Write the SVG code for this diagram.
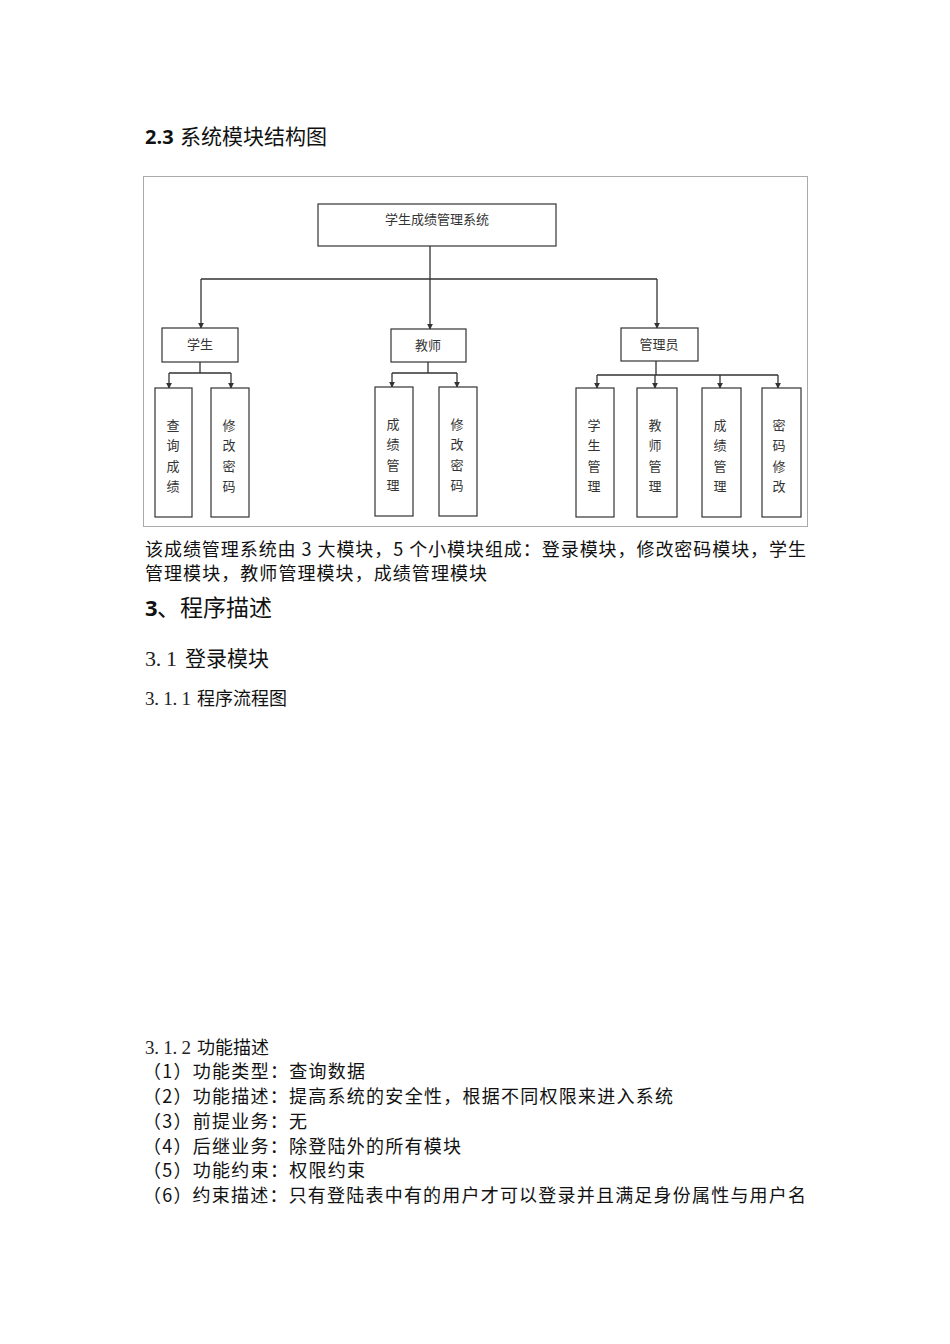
<svg xmlns="http://www.w3.org/2000/svg" width="950" height="1344" viewBox="0 0 950 1344">
<style>
.cjk{font-family:"Noto Sans CJK SC","Noto Sans",sans-serif;fill:#111}
.lat{font-family:"Open Sans","Liberation Sans",sans-serif;fill:#111}
.num{font-family:"Liberation Serif","DejaVu Serif",serif;fill:#222}
.box{fill:#fff;stroke:#333;stroke-width:1.2}
.nt{font-family:"Noto Sans CJK SC",sans-serif;font-size:13px;fill:#333;text-anchor:middle}
.edge{fill:none;stroke:#333;stroke-width:1.3}
.arr{fill:none;stroke:#333;stroke-width:1.3;marker-end:url(#ah)}
.body{font-size:18px}
</style>
<defs>
<marker id="ah" viewBox="0 0 8 8" refX="7" refY="4" markerWidth="6" markerHeight="6" markerUnits="userSpaceOnUse" orient="auto">
<path d="M0,0 L8,4 L0,8 z" fill="#333"/>
</marker>
</defs>
<rect width="950" height="1344" fill="#fff"/>

<!-- headings -->
<text x="145" y="144" class="lat" font-size="20" font-weight="bold">2.3</text>
<text x="180" y="144" class="cjk" font-size="21">系统模块结构图</text>

<!-- frame -->
<rect x="143.5" y="176.5" width="664" height="350" fill="none" stroke="#aaa" stroke-width="1"/>

<!-- connectors -->
<g id="connectors">
<path class="edge" d="M430,246 V279 M201,279 H657"/>
<path class="arr" d="M201,279 V328"/>
<path class="arr" d="M430,279 V329"/>
<path class="arr" d="M657,279 V328"/>
<path class="edge" d="M200,362 V373 M169,373 H231"/>
<path class="arr" d="M169,373 V388"/>
<path class="arr" d="M231,373 V388"/>
<path class="edge" d="M428,362 V373 M392,373 H457"/>
<path class="arr" d="M392,373 V387"/>
<path class="arr" d="M457,373 V387"/>
<path class="edge" d="M656,361 V375 M597,375 H778"/>
<path class="arr" d="M597,375 V388"/>
<path class="arr" d="M655,375 V388"/>
<path class="arr" d="M720,375 V388"/>
<path class="arr" d="M778,375 V388"/>
</g>

<g id="root"><rect class="box" x="318" y="204" width="238" height="42"/><text class="nt" x="437" y="224">学生成绩管理系统</text></g>
<g id="student"><rect class="box" x="162" y="328" width="76" height="34"/><text class="nt" x="200" y="349">学生</text></g>
<g id="teacher"><rect class="box" x="391" y="329" width="75" height="33"/><text class="nt" x="428" y="350">教师</text></g>
<g id="admin"><rect class="box" x="621" y="328" width="77" height="33"/><text class="nt" x="659" y="349">管理员</text></g>

<g id="s1"><rect class="box" x="155" y="388" width="37" height="129"/><text class="nt" x="173" y="430">查</text><text class="nt" x="173" y="450">询</text><text class="nt" x="173" y="471">成</text><text class="nt" x="173" y="491">绩</text></g>
<g id="s2"><rect class="box" x="211" y="388" width="38" height="129"/><text class="nt" x="229" y="430">修</text><text class="nt" x="229" y="450">改</text><text class="nt" x="229" y="471">密</text><text class="nt" x="229" y="491">码</text></g>
<g id="t1"><rect class="box" x="375" y="387" width="38" height="129"/><text class="nt" x="393" y="429">成</text><text class="nt" x="393" y="449">绩</text><text class="nt" x="393" y="470">管</text><text class="nt" x="393" y="490">理</text></g>
<g id="t2"><rect class="box" x="439" y="387" width="38" height="129"/><text class="nt" x="457" y="429">修</text><text class="nt" x="457" y="449">改</text><text class="nt" x="457" y="470">密</text><text class="nt" x="457" y="490">码</text></g>
<g id="a1"><rect class="box" x="576" y="388" width="38" height="129"/><text class="nt" x="594" y="430">学</text><text class="nt" x="594" y="450">生</text><text class="nt" x="594" y="471">管</text><text class="nt" x="594" y="491">理</text></g>
<g id="a2"><rect class="box" x="637" y="388" width="40" height="129"/><text class="nt" x="655" y="430">教</text><text class="nt" x="655" y="450">师</text><text class="nt" x="655" y="471">管</text><text class="nt" x="655" y="491">理</text></g>
<g id="a3"><rect class="box" x="702" y="388" width="39" height="129"/><text class="nt" x="720" y="430">成</text><text class="nt" x="720" y="450">绩</text><text class="nt" x="720" y="471">管</text><text class="nt" x="720" y="491">理</text></g>
<g id="a4"><rect class="box" x="762" y="388" width="39" height="129"/><text class="nt" x="779" y="430">密</text><text class="nt" x="779" y="450">码</text><text class="nt" x="779" y="471">修</text><text class="nt" x="779" y="491">改</text></g>

<!-- body text -->
<text x="145" y="556" class="cjk body" textLength="661" lengthAdjust="spacing">该成绩管理系统由 3 大模块，5 个小模块组成：登录模块，修改密码模块，学生</text>
<text x="145" y="580" class="cjk body" textLength="342" lengthAdjust="spacing">管理模块，教师管理模块，成绩管理模块</text>

<text x="145" y="616" class="lat" font-size="22" font-weight="bold">3</text>
<text x="157" y="616" class="cjk" font-size="23">、程序描述</text>

<text x="145" y="666" class="num" font-size="22" textLength="32" lengthAdjust="spacing">3. 1</text>
<text x="185" y="666" class="cjk" font-size="21">登录模块</text>

<text x="145" y="705" class="num" font-size="19" textLength="46" lengthAdjust="spacing">3. 1. 1</text>
<text x="197" y="705" class="cjk" font-size="18">程序流程图</text>

<text x="145" y="1054" class="num" font-size="19" textLength="46" lengthAdjust="spacing">3. 1. 2</text>
<text x="197" y="1054" class="cjk" font-size="18">功能描述</text>

<text x="143" y="1078" class="cjk body" textLength="222" lengthAdjust="spacing">（1）功能类型：查询数据</text>
<text x="143" y="1103" class="cjk body" textLength="530" lengthAdjust="spacing">（2）功能描述：提高系统的安全性，根据不同权限来进入系统</text>
<text x="143" y="1128" class="cjk body" textLength="164" lengthAdjust="spacing">（3）前提业务：无</text>
<text x="143" y="1153" class="cjk body" textLength="318" lengthAdjust="spacing">（4）后继业务：除登陆外的所有模块</text>
<text x="143" y="1177" class="cjk body" textLength="222" lengthAdjust="spacing">（5）功能约束：权限约束</text>
<text x="143" y="1202" class="cjk body" textLength="663" lengthAdjust="spacing">（6）约束描述：只有登陆表中有的用户才可以登录并且满足身份属性与用户名</text>
</svg>
